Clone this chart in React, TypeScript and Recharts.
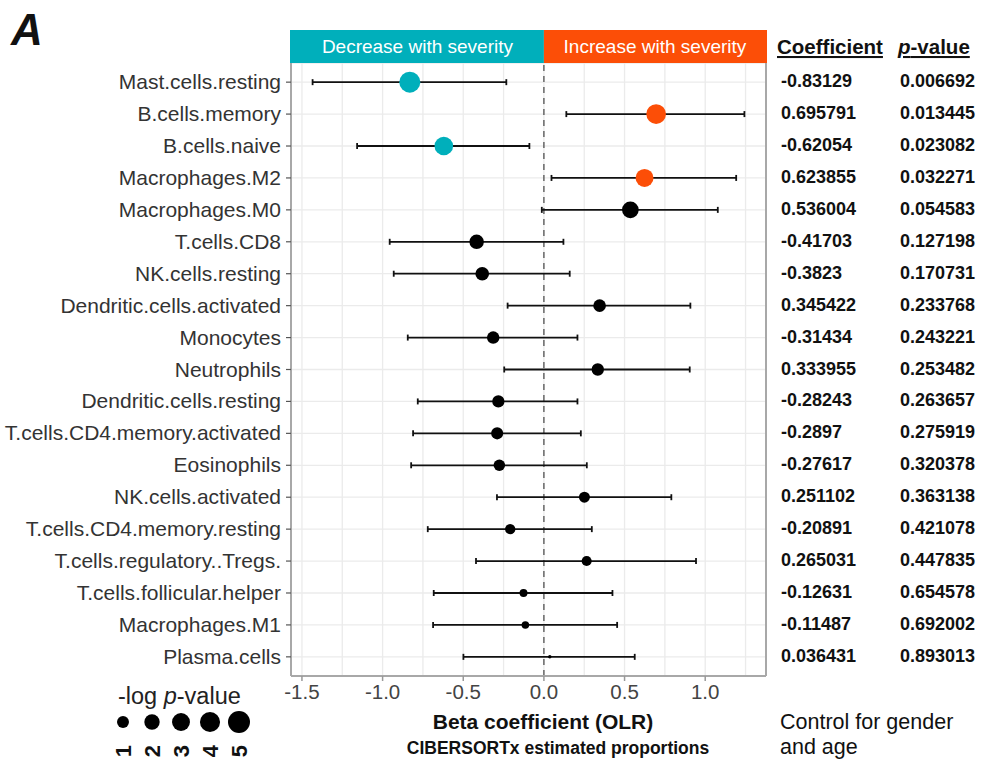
import {
  ScatterChart,
  Scatter,
  XAxis,
  YAxis,
  CartesianGrid,
  ErrorBar,
  ReferenceLine,
} from "recharts";

const cells = [
  "Mast.cells.resting",
  "B.cells.memory",
  "B.cells.naive",
  "Macrophages.M2",
  "Macrophages.M0",
  "T.cells.CD8",
  "NK.cells.resting",
  "Dendritic.cells.activated",
  "Monocytes",
  "Neutrophils",
  "Dendritic.cells.resting",
  "T.cells.CD4.memory.activated",
  "Eosinophils",
  "NK.cells.activated",
  "T.cells.CD4.memory.resting",
  "T.cells.regulatory..Tregs.",
  "T.cells.follicular.helper",
  "Macrophages.M1",
  "Plasma.cells",
];

const coefficient = [
  -0.83129, 0.695791, -0.62054, 0.623855, 0.536004, -0.41703, -0.3823, 0.345422, -0.31434,
  0.333955, -0.28243, -0.2897, -0.27617, 0.251102, -0.20891, 0.265031, -0.12631, -0.11487,
  0.036431,
];

const pValue = [
  0.006692, 0.013445, 0.023082, 0.032271, 0.054583, 0.127198, 0.170731, 0.233768, 0.243221,
  0.253482, 0.263657, 0.275919, 0.320378, 0.363138, 0.421078, 0.447835, 0.654578, 0.692002,
  0.893013,
];

// 95% CI ends
const ciLow = [
  -1.434, 0.139, -1.158, 0.047, -0.013, -0.956, -0.931, -0.225, -0.844, -0.246, -0.782, -0.811,
  -0.823, -0.291, -0.72, -0.421, -0.683, -0.687, -0.499,
];
const ciHigh = [
  -0.233, 1.243, -0.09, 1.192, 1.078, 0.121, 0.16, 0.908, 0.208, 0.904, 0.208, 0.229, 0.266,
  0.79, 0.297, 0.943, 0.425, 0.454, 0.563,
];

const xTicks = [-1.5, -1.0, -0.5, 0.0, 0.5, 1.0];
const gridX = [-1.5, -1.25, -1.0, -0.75, -0.5, -0.25, 0, 0.25, 0.5, 0.75, 1.0, 1.25];
const legendValues = [1, 2, 3, 4, 5];

const TEAL = "#00AFBB";
const ORANGE = "#FC4E07";
const FONT = "'Liberation Sans', Arial, sans-serif";

const W = 985;
const H = 761;
const TOP = 63;
const LEFT_W = 291;
const RIGHT_W = 219;
const X_AXIS_H = 85;

const lo = Math.min(...ciLow);
const hi = Math.max(...ciHigh);
const pad = (hi - lo) * 0.05;
const xMin = lo - pad;
const xMax = hi + pad;

const logP = pValue.map((p) => -Math.log(p));
const lpMin = Math.min(...logP);
const lpMax = Math.max(...logP);
const radius = (v: number) =>
  1.75 * (1 + 5 * Math.sqrt(Math.max(0, v - lpMin) / (lpMax - lpMin)));

const rows = cells.map((_, i) => i);
const data = cells.map((name, i) => ({
  name,
  row: i,
  beta: coefficient[i],
  err: [coefficient[i] - ciLow[i], ciHigh[i] - coefficient[i]],
  r: radius(logP[i]),
  color: pValue[i] < 0.05 ? (coefficient[i] < 0 ? TEAL : ORANGE) : "#000",
}));

const plotLeft = LEFT_W;
const plotRight = W - RIGHT_W;
const zeroX = plotLeft + ((0 - xMin) / (xMax - xMin)) * (plotRight - plotLeft);

const Dot = (props: any) => {
  const { cx, cy, payload } = props;
  if (cx == null || cy == null) return <g />;
  return <circle cx={cx} cy={cy} r={payload.r} fill={payload.color} />;
};

const CellTick = (props: any) => {
  const { x, y, payload } = props;
  return (
    <text x={x} y={y} dy={7} textAnchor="end" fontSize={21} fill="#333" fontFamily={FONT}>
      {cells[payload.value]}
    </text>
  );
};

const TableTick = (props: any) => {
  const { x, y, payload } = props;
  const i = payload.value;
  return (
    <g fontFamily={FONT} fontWeight="bold" fontSize={18} fill="#111">
      <text x={x + 15} y={y} dy={5}>
        {String(coefficient[i])}
      </text>
      <text x={x + 134} y={y} dy={5}>
        {pValue[i].toFixed(6)}
      </text>
    </g>
  );
};

const BetaTick = (props: any) => {
  const { x, y, payload } = props;
  return (
    <text x={x} y={y} dy={16} textAnchor="middle" fontSize={20.5} fill="#444" fontFamily={FONT}>
      {payload.value.toFixed(1)}
    </text>
  );
};

export default function App() {
  return (
    <div style={{ position: "absolute", left: 0, top: 0, width: W, height: H, background: "#fff", fontFamily: FONT }}>
      <ScatterChart width={W} height={H} margin={{ top: TOP, right: 0, bottom: 0, left: 0 }}>
        <CartesianGrid
          yAxisId="left"
          stroke="#ebebeb"
          strokeWidth={1.3}
          verticalValues={gridX}
        />
        <XAxis
          type="number"
          dataKey="beta"
          domain={[xMin, xMax]}
          allowDataOverflow
          ticks={xTicks}
          height={X_AXIS_H}
          tick={<BetaTick />}
          tickSize={5}
          tickLine={{ stroke: "#999", strokeWidth: 1.5 }}
          axisLine={{ stroke: "#a8a8a8", strokeWidth: 2 }}
        />
        <YAxis
          yAxisId="left"
          type="number"
          dataKey="row"
          domain={[-0.6, rows.length - 0.4]}
          reversed
          ticks={rows}
          interval={0}
          width={LEFT_W}
          tick={<CellTick />}
          tickSize={5}
          tickMargin={5}
          tickLine={{ stroke: "#555", strokeWidth: 1.2 }}
          axisLine={{ stroke: "#a8a8a8", strokeWidth: 2 }}
        />
        <YAxis
          yAxisId="right"
          orientation="right"
          type="number"
          dataKey="row"
          domain={[-0.6, rows.length - 0.4]}
          reversed
          ticks={rows}
          interval={0}
          width={RIGHT_W}
          tick={<TableTick />}
          tickSize={0}
          tickMargin={0}
          tickLine={false}
          axisLine={{ stroke: "#a8a8a8", strokeWidth: 2 }}
        />
        <ReferenceLine yAxisId="left" x={0} stroke="#444" strokeWidth={1.2} strokeDasharray="6 5" />
        <Scatter yAxisId="right" data={data} shape={() => <g />} isAnimationActive={false} legendType="none" />
        <Scatter yAxisId="left" data={data} shape={<Dot />} isAnimationActive={false}>
          <ErrorBar dataKey="err" direction="x" width={3} stroke="#111" strokeWidth={1.8} />
        </Scatter>
      </ScatterChart>

      <svg
        width={W}
        height={H}
        style={{ position: "absolute", left: 0, top: 0, pointerEvents: "none" }}
        fontFamily={FONT}
      >
        <text x={11} y={45} fontSize={44} fontStyle="italic" fontWeight="bold" fill="#111">
          A
        </text>

        <rect x={plotLeft - 1} y={30} width={zeroX - plotLeft + 1} height={33} fill={TEAL} />
        <rect x={zeroX} y={30} width={plotRight - zeroX + 1} height={33} fill={ORANGE} />
        <text x={(plotLeft + zeroX) / 2} y={53} textAnchor="middle" fontSize={19} fill="#fff">
          Decrease with severity
        </text>
        <text x={(zeroX + plotRight) / 2} y={53} textAnchor="middle" fontSize={19} fill="#fff">
          Increase with severity
        </text>

        <text x={777} y={54} fontSize={20.5} fontWeight="bold" fill="#111" textDecoration="underline">
          Coefficient
        </text>
        <text x={898} y={54} fontSize={20.5} fontWeight="bold" fill="#111" textDecoration="underline">
          <tspan fontStyle="italic">p</tspan>-value
        </text>

        <text x={118} y={704} fontSize={23.5} fill="#222">
          -log <tspan fontStyle="italic">p</tspan>-value
        </text>
        {legendValues.map((v, i) => (
          <g key={v}>
            <circle cx={123 + i * 29} cy={722} r={radius(v) + 0.5} fill="#000" />
            <text
              x={123 + i * 29}
              y={745}
              fontSize={22}
              fontWeight="bold"
              fill="#111"
              textAnchor="end"
              dominantBaseline="central"
              transform={`rotate(-90, ${123 + i * 29}, 745)`}
            >
              {v}
            </text>
          </g>
        ))}

        <text x={543} y={729} textAnchor="middle" fontSize={21} fontWeight="bold" fill="#111">
          Beta coefficient (OLR)
        </text>
        <text x={558} y={754} textAnchor="middle" fontSize={17.5} fontWeight="bold" fill="#111">
          CIBERSORTx estimated proportions
        </text>
        <text x={780} y={729} fontSize={21.5} fill="#111">
          Control for gender
        </text>
        <text x={780} y={754} fontSize={21.5} fill="#111">
          and age
        </text>
      </svg>
    </div>
  );
}
